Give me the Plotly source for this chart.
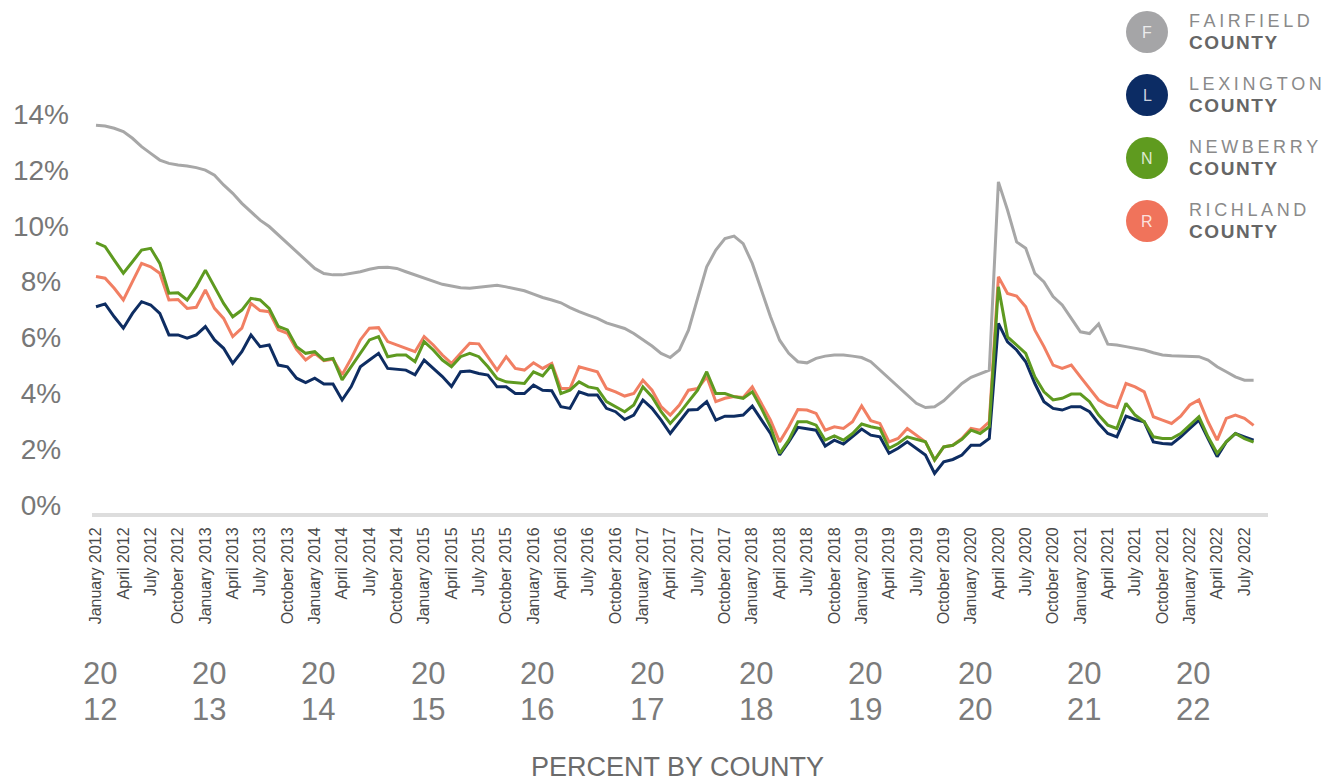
import pandas as pd
import plotly.graph_objects as go

# Monthly series, January 2012 through August 2022 (percent)
months = pd.date_range("2012-01-01", periods=128, freq="MS")

fairfield = [
    13.60, 13.57, 13.49, 13.37, 13.13, 12.83, 12.59, 12.35, 12.23, 12.17, 12.14, 12.08,
    11.99, 11.81, 11.46, 11.16, 10.80, 10.50, 10.20, 9.97, 9.67, 9.37, 9.07, 8.77,
    8.47, 8.29, 8.24, 8.24, 8.29, 8.35, 8.44, 8.50, 8.51, 8.47, 8.35, 8.24,
    8.12, 8.00, 7.90, 7.84, 7.78, 7.76, 7.80, 7.84, 7.87, 7.81, 7.75, 7.67,
    7.55, 7.43, 7.34, 7.24, 7.07, 6.92, 6.80, 6.68, 6.52, 6.41, 6.32, 6.14,
    5.93, 5.69, 5.43, 5.28, 5.55, 6.26, 7.40, 8.53, 9.13, 9.54, 9.63, 9.36,
    8.65, 7.69, 6.74, 5.90, 5.43, 5.13, 5.09, 5.25, 5.33, 5.37, 5.37, 5.33,
    5.28, 5.13, 4.83, 4.53, 4.23, 3.93, 3.64, 3.49, 3.52, 3.73, 4.05, 4.35,
    4.57, 4.71, 4.83, 11.57, 10.56, 9.42, 9.19, 8.29, 7.99, 7.46, 7.16, 6.68,
    6.20, 6.14, 6.48, 5.76, 5.73, 5.67, 5.61, 5.55, 5.45, 5.37, 5.34, 5.33,
    5.33, 5.31, 5.19, 4.95, 4.77, 4.59, 4.47, 4.47,
]

lexington = [
    7.10, 7.20, 6.74, 6.33, 6.86, 7.28, 7.16, 6.86, 6.09, 6.09, 5.97, 6.09,
    6.39, 5.91, 5.61, 5.07, 5.49, 6.09, 5.67, 5.73, 5.01, 4.95, 4.54, 4.38,
    4.54, 4.33, 4.33, 3.76, 4.24, 4.95, 5.19, 5.43, 4.89, 4.86, 4.83, 4.66,
    5.19, 4.89, 4.60, 4.24, 4.77, 4.80, 4.71, 4.65, 4.23, 4.23, 3.99, 3.99,
    4.29, 4.11, 4.09, 3.52, 3.46, 4.05, 3.94, 3.94, 3.46, 3.34, 3.06, 3.22,
    3.76, 3.46, 3.04, 2.56, 2.98, 3.40, 3.42, 3.70, 3.04, 3.18, 3.18, 3.22,
    3.54, 3.06, 2.56, 1.79, 2.26, 2.78, 2.74, 2.68, 2.11, 2.32, 2.18, 2.44,
    2.72, 2.50, 2.44, 1.85, 2.03, 2.26, 2.03, 1.79, 1.13, 1.55, 1.63, 1.79,
    2.14, 2.14, 2.38, 6.50, 5.84, 5.55, 5.13, 4.35, 3.70, 3.46, 3.40, 3.52,
    3.52, 3.34, 2.92, 2.56, 2.44, 3.18, 3.06, 2.98, 2.26, 2.20, 2.18, 2.44,
    2.74, 3.04, 2.38, 1.73, 2.26, 2.56, 2.44, 2.32,
]

newberry = [
    9.39, 9.25, 8.77, 8.30, 8.71, 9.13, 9.19, 8.65, 7.58, 7.60, 7.34, 7.82,
    8.41, 7.82, 7.22, 6.74, 6.98, 7.40, 7.34, 7.04, 6.39, 6.27, 5.67, 5.43,
    5.49, 5.19, 5.25, 4.48, 4.95, 5.43, 5.91, 6.03, 5.31, 5.37, 5.37, 5.13,
    5.85, 5.55, 5.19, 4.95, 5.31, 5.43, 5.31, 4.95, 4.53, 4.41, 4.38, 4.35,
    4.77, 4.62, 5.01, 3.99, 4.11, 4.41, 4.23, 4.17, 3.70, 3.52, 3.34, 3.58,
    4.23, 3.88, 3.34, 2.92, 3.28, 3.70, 4.11, 4.77, 3.99, 3.99, 3.88, 3.82,
    4.05, 3.46, 2.80, 1.85, 2.32, 2.98, 2.98, 2.86, 2.32, 2.47, 2.32, 2.56,
    2.90, 2.80, 2.74, 2.03, 2.20, 2.44, 2.35, 2.26, 1.61, 2.08, 2.14, 2.35,
    2.68, 2.56, 2.80, 7.81, 6.02, 5.73, 5.43, 4.59, 4.05, 3.76, 3.82, 3.97,
    3.97, 3.70, 3.22, 2.86, 2.74, 3.64, 3.22, 2.98, 2.44, 2.38, 2.38, 2.56,
    2.86, 3.16, 2.44, 1.85, 2.26, 2.56, 2.38, 2.25,
]

richland = [
    8.18, 8.12, 7.76, 7.34, 8.00, 8.65, 8.53, 8.30, 7.34, 7.36, 7.04, 7.08,
    7.70, 7.04, 6.68, 6.03, 6.33, 7.22, 6.96, 6.92, 6.27, 6.15, 5.57, 5.19,
    5.43, 5.17, 5.22, 4.66, 5.25, 5.91, 6.33, 6.35, 5.85, 5.73, 5.61, 5.49,
    6.03, 5.73, 5.37, 5.07, 5.43, 5.79, 5.77, 5.31, 4.83, 5.31, 4.89, 4.83,
    5.09, 4.89, 5.07, 4.17, 4.17, 4.95, 4.85, 4.77, 4.17, 4.05, 3.90, 3.99,
    4.47, 4.11, 3.52, 3.22, 3.58, 4.11, 4.17, 4.59, 3.70, 3.82, 3.88, 3.85,
    4.23, 3.64, 3.04, 2.26, 2.80, 3.42, 3.40, 3.28, 2.68, 2.80, 2.74, 2.98,
    3.55, 3.02, 2.92, 2.26, 2.38, 2.74, 2.50, 2.26, 1.61, 2.08, 2.14, 2.38,
    2.74, 2.68, 2.98, 8.17, 7.57, 7.48, 7.10, 6.26, 5.67, 5.01, 4.89, 5.01,
    4.59, 4.17, 3.76, 3.58, 3.49, 4.35, 4.23, 4.05, 3.16, 3.04, 2.92, 3.18,
    3.58, 3.76, 2.98, 2.32, 3.10, 3.22, 3.10, 2.85,
]

month_idx = list(range(len(months)))
tick_idx = month_idx[::3]
tick_labels = [f"{months[i]:%B %Y}" for i in tick_idx]

pct_ticks = [0, 2, 4, 6, 8, 10, 12, 14]
# non-breaking space keeps the one-digit labels centred under the two-digit ones
pct_labels = [f"{v}%" + ("\u00a0" if v < 10 else "") for v in pct_ticks]

years = ["2012", "2013", "2014", "2015", "2016", "2017",
         "2018", "2019", "2020", "2021", "2022"]

counties = [
    ("FAIRFIELD", "F", fairfield, "#a7a7a7"),
    ("RICHLAND", "R", richland, "#f17f63"),
    ("LEXINGTON", "L", lexington, "#0e2d62"),
    ("NEWBERRY", "N", newberry, "#5e9a20"),
]
legend_order = ["FAIRFIELD", "LEXINGTON", "NEWBERRY", "RICHLAND"]
legend_fill = {"FAIRFIELD": "#a5a5a7", "LEXINGTON": "#0c2c64",
               "NEWBERRY": "#5f9b1f", "RICHLAND": "#f0735b"}

W, H = 1343, 781
ML, MR, MT, MB = 92, 75, 86, 268
PW, PH = W - ML - MR, H - MT - MB


def px(xp):
    return (xp - ML) / PW


def py(yp):
    return (H - MB - yp) / PH


FONT = "Liberation Sans, Arial, Helvetica, sans-serif"

fig = go.Figure()
for name, _, vals, color in counties:
    fig.add_trace(go.Scatter(
        x=month_idx, y=vals, mode="lines", name=name,
        line=dict(color=color, width=3),
        hovertemplate=[f"{m:%B %Y}: %{{y:.1f}}%<extra>{name.title()} County</extra>"
                       for m in months],
        showlegend=False,
    ))

annotations = []
shapes = []

# year labels split over two lines below the month labels
for k, yr in enumerate(years):
    xc = 12 * k + 0.4
    annotations.append(dict(x=xc, y=py(673), xref="x", yref="paper", text=yr[:2],
                            showarrow=False, xanchor="center", yanchor="middle",
                            font=dict(family=FONT, size=31, color="#7b7b7b")))
    annotations.append(dict(x=xc, y=py(709), xref="x", yref="paper", text=yr[2:],
                            showarrow=False, xanchor="center", yanchor="middle",
                            font=dict(family=FONT, size=31, color="#7b7b7b")))

annotations.append(dict(x=px(677), y=py(767), xref="paper", yref="paper",
                        text="PERCENT BY COUNTY", showarrow=False,
                        xanchor="center", yanchor="middle",
                        font=dict(family=FONT, size=27, color="#6b6b6b")))

# badge legend in the top-right corner
lookup = {c[0]: c for c in counties}
cx, r = 1147, 21
for i, name in enumerate(legend_order):
    letter = lookup[name][1]
    cy = 32 + 63 * i
    shapes.append(dict(type="circle", xref="paper", yref="paper",
                       x0=px(cx - r), x1=px(cx + r), y0=py(cy + r), y1=py(cy - r),
                       fillcolor=legend_fill[name], line=dict(width=0)))
    annotations.append(dict(x=px(cx), y=py(cy), xref="paper", yref="paper",
                            text=letter, showarrow=False, xanchor="center",
                            yanchor="middle",
                            font=dict(family=FONT, size=16,
                                      color="rgba(255,255,255,0.8)")))
    annotations.append(dict(x=px(1187), y=py(cy - 11), xref="paper", yref="paper",
                            text="\u2009".join(name), showarrow=False,
                            xanchor="left", yanchor="middle",
                            font=dict(family=FONT, size=18, color="#8a8a8a")))
    annotations.append(dict(x=px(1187), y=py(cy + 10), xref="paper", yref="paper",
                            text="<b>" + "\u200a".join("COUNTY") + "</b>",
                            showarrow=False, xanchor="left", yanchor="middle",
                            font=dict(family=FONT, size=19, color="#666666")))

x0 = -(96 - ML) / 9.115
y0 = -(H - MB - 505) / 27.93

fig.update_layout(
    width=W, height=H,
    margin=dict(l=ML, r=MR, t=MT, b=MB, pad=0),
    paper_bgcolor="white", plot_bgcolor="white",
    template="none",
    font=dict(family=FONT),
    xaxis=dict(
        range=[x0, x0 + PW / 9.115], tickmode="array", tickvals=tick_idx,
        ticktext=tick_labels, tickangle=-90, ticks="", showgrid=False,
        zeroline=False, showline=True, linecolor="#dddddd", linewidth=4,
        tickfont=dict(family=FONT, size=16, color="#4a4a4a"),
        automargin=False, ticklabelstandoff=4,
    ),
    yaxis=dict(
        range=[y0, y0 + PH / 27.93], tickmode="array", tickvals=pct_ticks,
        ticktext=pct_labels, ticks="", showgrid=False, zeroline=False,
        showline=False,
        tickfont=dict(family=FONT, size=28, color="#777777"),
        automargin=False, ticklabelstandoff=22,
    ),
    annotations=annotations,
    shapes=shapes,
    hovermode="closest",
)

fig.write_html("out.html")
